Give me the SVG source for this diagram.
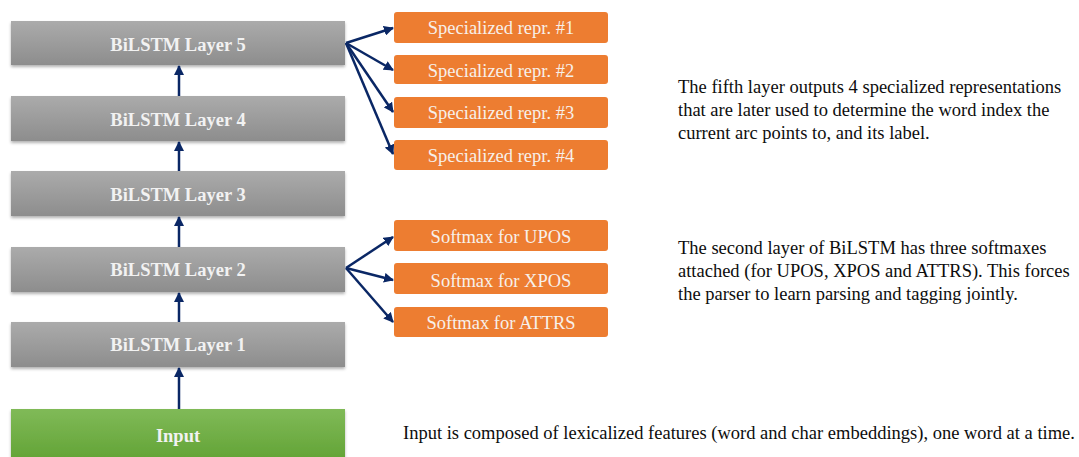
<svg xmlns="http://www.w3.org/2000/svg" width="1079" height="457" viewBox="0 0 1079 457">
<defs>
<linearGradient id="gGray" x1="0" y1="0" x2="0" y2="1">
<stop offset="0" stop-color="#ababab"/>
<stop offset="1" stop-color="#8d8d8d"/>
</linearGradient>
<linearGradient id="gGreen" x1="0" y1="0" x2="0" y2="1">
<stop offset="0" stop-color="#80ba58"/>
<stop offset="1" stop-color="#62a335"/>
</linearGradient>
<filter id="sh" x="-5%" y="-20%" width="110%" height="150%">
<feDropShadow dx="0" dy="2" stdDeviation="1.5" flood-color="#000" flood-opacity="0.3"/>
</filter>
<marker id="ah" viewBox="0 0 10 10" refX="9" refY="5" markerWidth="4" markerHeight="4" orient="auto" markerUnits="strokeWidth">
<path d="M0,0 L10,5 L0,10 z" fill="#0a2765"/>
</marker>
</defs>
<style>
.gray{fill:url(#gGray);filter:url(#sh);}
.green{fill:url(#gGreen);filter:url(#sh);}
.orange{fill:#ed7d31;}
.bl{font-family:"Liberation Serif",serif;font-weight:bold;font-size:18.5px;fill:#f2f2f2;text-anchor:middle;}
.ol{font-family:"Liberation Serif",serif;font-size:18.5px;fill:#f7f0ea;text-anchor:middle;}
.desc{font-family:"Liberation Serif",serif;font-size:18.5px;fill:#0d0d0d;}
.conn path{stroke:#0a2765;stroke-width:2.5;fill:none;marker-end:url(#ah);}
</style>
<rect width="1079" height="457" fill="#fff"/>
<g id="layer5"><rect class="gray" x="11" y="21" width="334" height="44"/><text class="bl" x="178" y="50.5">BiLSTM Layer 5</text></g>
<g id="layer4"><rect class="gray" x="11" y="96" width="334" height="45"/><text class="bl" x="178" y="126">BiLSTM Layer 4</text></g>
<g id="layer3"><rect class="gray" x="11" y="171" width="334" height="45"/><text class="bl" x="178" y="201">BiLSTM Layer 3</text></g>
<g id="layer2"><rect class="gray" x="11" y="247" width="334" height="45"/><text class="bl" x="178" y="276">BiLSTM Layer 2</text></g>
<g id="layer1"><rect class="gray" x="11" y="322" width="334" height="45"/><text class="bl" x="178" y="351">BiLSTM Layer 1</text></g>
<g id="input"><rect class="green" x="11" y="409" width="334" height="52"/><text class="bl" x="178" y="442">Input</text></g>
<g id="spec1"><rect class="orange" x="394" y="12" width="214" height="31" rx="3"/><text class="ol" x="501" y="34">Specialized repr. #1</text></g>
<g id="spec2"><rect class="orange" x="394" y="55" width="214" height="29" rx="3"/><text class="ol" x="501" y="76.5">Specialized repr. #2</text></g>
<g id="spec3"><rect class="orange" x="394" y="97" width="214" height="31" rx="3"/><text class="ol" x="501" y="119">Specialized repr. #3</text></g>
<g id="spec4"><rect class="orange" x="394" y="140" width="214" height="30" rx="3"/><text class="ol" x="501" y="161.5">Specialized repr. #4</text></g>
<g id="upos"><rect class="orange" x="394" y="220" width="214" height="31" rx="3"/><text class="ol" x="501" y="242.5">Softmax for UPOS</text></g>
<g id="xpos"><rect class="orange" x="394" y="263" width="214" height="31" rx="3"/><text class="ol" x="501" y="286.5">Softmax for XPOS</text></g>
<g id="attrs"><rect class="orange" x="394" y="307" width="214" height="30" rx="3"/><text class="ol" x="501" y="329">Softmax for ATTRS</text></g>
<g class="conn" id="connectors">
<path d="M179,96 L179,66"/>
<path d="M179,171 L179,142"/>
<path d="M179,247 L179,217"/>
<path d="M179,322 L179,293"/>
<path d="M179,409 L179,368"/>
<path d="M346,43 L393,28"/>
<path d="M346,43 L393,70"/>
<path d="M346,43 L393,112"/>
<path d="M346,43 L393,154"/>
<path d="M346,268 L393,237"/>
<path d="M346,268 L393,280"/>
<path d="M346,268 L393,322"/>
</g>
<g id="desc5">
<text class="desc" x="678" y="93">The fifth layer outputs 4 specialized representations</text>
<text class="desc" x="678" y="116">that are later used to determine the word index the</text>
<text class="desc" x="678" y="138.5">current arc points to, and its label.</text>
</g>
<g id="desc2">
<text class="desc" x="678" y="254">The second layer of BiLSTM has three softmaxes</text>
<text class="desc" x="678" y="277">attached (for UPOS, XPOS and ATTRS). This forces</text>
<text class="desc" x="678" y="299.5">the parser to learn  parsing and tagging jointly.</text>
</g>
<g id="descInput">
<text class="desc" x="403" y="439">Input is composed of lexicalized  features (word and char embeddings), one word at a time.</text>
</g>
</svg>
